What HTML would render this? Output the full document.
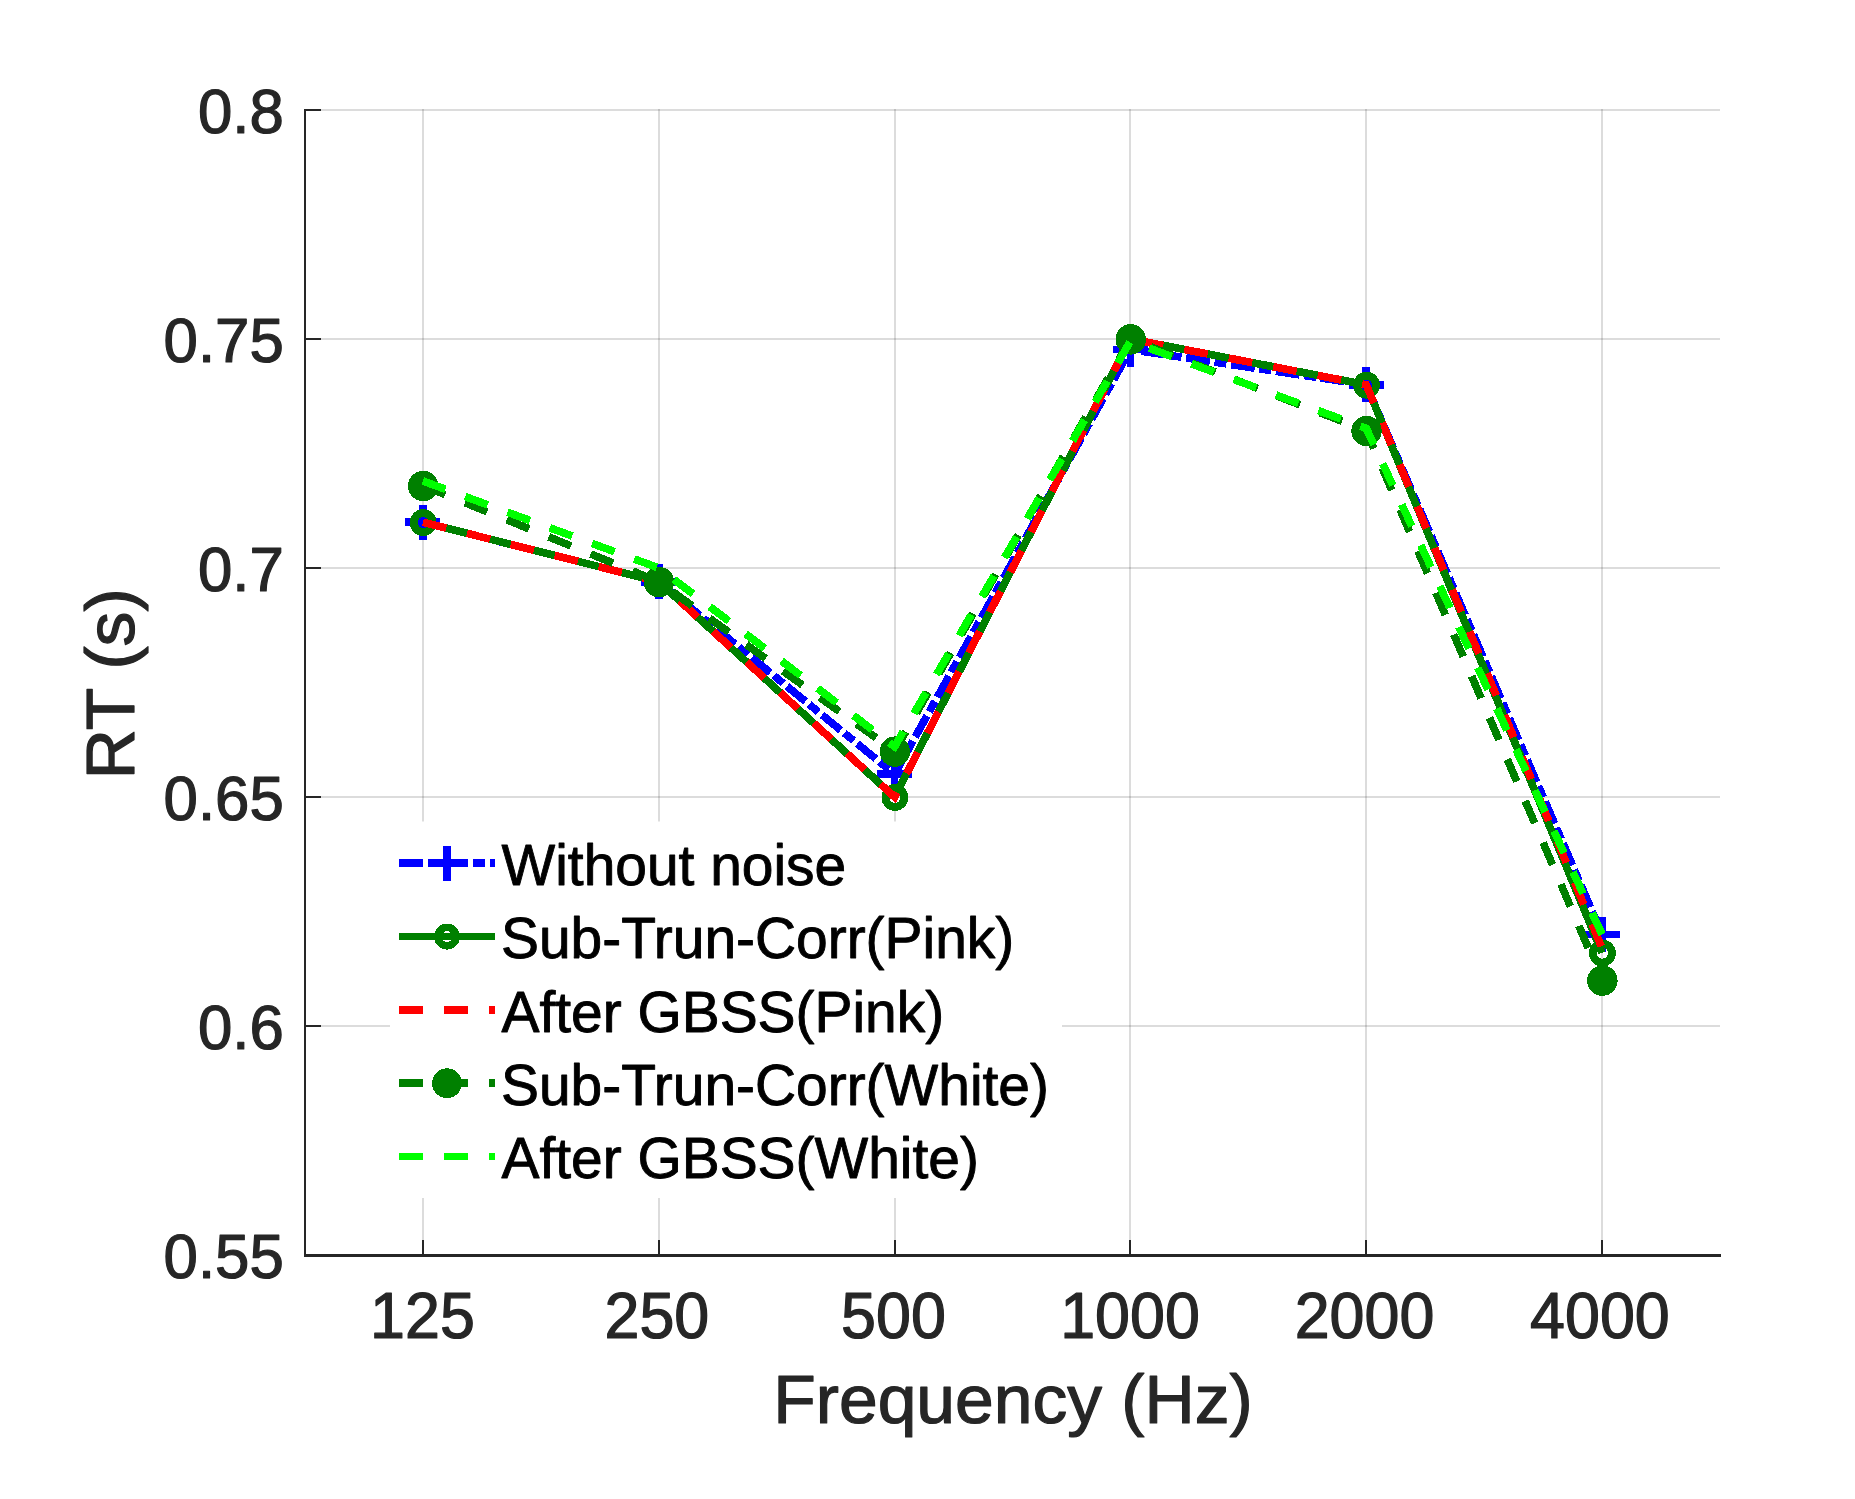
<!DOCTYPE html>
<html lang="en"><head><meta charset="utf-8"><title>RT vs Frequency</title>
<style>
html,body{margin:0;padding:0;background:#fff;}
body{width:1855px;height:1499px;overflow:hidden;}
svg{display:block;}
text{font-family:"Liberation Sans",Arial,Helvetica,sans-serif;}
.tick{font-size:62.5px;fill:#262626;stroke:#262626;stroke-width:1.2px;stroke-linejoin:round;}
.lab{font-size:69.6px;fill:#262626;stroke:#262626;stroke-width:1.2px;stroke-linejoin:round;}
.leg{font-size:56.9px;fill:#000;stroke:#000;stroke-width:0.9px;stroke-linejoin:round;}
.crisp{shape-rendering:crispEdges;}
</style></head><body>
<svg width="1855" height="1499" viewBox="0 0 1855 1499">
<rect width="1855" height="1499" fill="#fff"/>
<g class="crisp" stroke="#262626" stroke-opacity="0.16" stroke-width="2" fill="none">
<line x1="423.0" y1="109.0" x2="423.0" y2="1255.0"/>
<line x1="659.0" y1="109.0" x2="659.0" y2="1255.0"/>
<line x1="895.0" y1="109.0" x2="895.0" y2="1255.0"/>
<line x1="1130.0" y1="109.0" x2="1130.0" y2="1255.0"/>
<line x1="1366.0" y1="109.0" x2="1366.0" y2="1255.0"/>
<line x1="1602.0" y1="109.0" x2="1602.0" y2="1255.0"/>
<line x1="305.0" y1="110.0" x2="1720.0" y2="110.0"/>
<line x1="305.0" y1="339.0" x2="1720.0" y2="339.0"/>
<line x1="305.0" y1="568.0" x2="1720.0" y2="568.0"/>
<line x1="305.0" y1="797.0" x2="1720.0" y2="797.0"/>
<line x1="305.0" y1="1026.0" x2="1720.0" y2="1026.0"/>
</g>
<rect x="390" y="821.5" width="672" height="376.5" fill="#fff"/>
<g class="crisp" fill="none" stroke-width="7.7" stroke-linejoin="miter">
<polyline points="422.92,522.20 658.75,581.74 894.58,774.10 1130.42,349.53 1366.25,384.80 1602.08,934.40" stroke="#0000ff" stroke-dasharray="24 4.7 12 4.7"/>
<path d="M405.4 522.2H440.4M422.9 504.7V539.7" stroke="#0000ff"/>
<path d="M641.2 581.7H676.2M658.8 564.2V599.2" stroke="#0000ff"/>
<path d="M877.1 774.1H912.1M894.6 756.6V791.6" stroke="#0000ff"/>
<path d="M1112.9 349.5H1147.9M1130.4 332.0V367.0" stroke="#0000ff"/>
<path d="M1348.8 384.8H1383.8M1366.2 367.3V402.3" stroke="#0000ff"/>
<path d="M1584.6 934.4H1619.6M1602.1 916.9V951.9" stroke="#0000ff"/>
<polyline points="422.92,522.20 658.75,581.74 894.58,797.00 1130.42,339.00 1366.25,384.80 1602.08,952.72" stroke="#008000"/>
<circle cx="423.2" cy="522.6" r="9.5" stroke-width="7.8" stroke="#008000"/>
<circle cx="659.0" cy="582.1" r="9.5" stroke-width="7.8" stroke="#008000"/>
<circle cx="894.9" cy="797.4" r="9.5" stroke-width="7.8" stroke="#008000"/>
<circle cx="1130.7" cy="339.4" r="9.5" stroke-width="7.8" stroke="#008000"/>
<circle cx="1366.5" cy="385.2" r="9.5" stroke-width="7.8" stroke="#008000"/>
<circle cx="1602.4" cy="953.1" r="9.5" stroke-width="7.8" stroke="#008000"/>
<polyline points="422.92,522.20 658.75,581.74 894.58,797.00 1130.42,339.00 1366.25,384.80 1602.08,948.14" stroke="#ff0000" stroke-dasharray="24 21.3"/>
<polyline points="422.92,485.56 658.75,581.74 894.58,751.20 1130.42,339.00 1366.25,430.60 1602.08,980.20" stroke="#008000" stroke-dasharray="24 21.3"/>
<circle cx="423.2" cy="486.0" r="15.2" fill="#008000" stroke="none"/>
<circle cx="659.0" cy="582.1" r="15.2" fill="#008000" stroke="none"/>
<circle cx="894.9" cy="751.6" r="15.2" fill="#008000" stroke="none"/>
<circle cx="1130.7" cy="339.4" r="15.2" fill="#008000" stroke="none"/>
<circle cx="1366.5" cy="431.0" r="15.2" fill="#008000" stroke="none"/>
<circle cx="1602.4" cy="980.6" r="15.2" fill="#008000" stroke="none"/>
<polyline points="422.92,480.98 658.75,568.00 894.58,746.62 1130.42,341.29 1366.25,428.31 1602.08,934.40" stroke="#00ff00" stroke-dasharray="24 21.05"/>
</g>
<g class="crisp" fill="#262626" stroke="none">
<rect x="304" y="109" width="2" height="1148"/>
<rect x="304" y="1254" width="1417" height="3"/>
<rect x="422" y="1240" width="2" height="15"/>
<rect x="658" y="1240" width="2" height="15"/>
<rect x="894" y="1240" width="2" height="15"/>
<rect x="1129" y="1240" width="2" height="15"/>
<rect x="1365" y="1240" width="2" height="15"/>
<rect x="1601" y="1240" width="2" height="15"/>
<rect x="305" y="109" width="16" height="2"/>
<rect x="305" y="338" width="16" height="2"/>
<rect x="305" y="567" width="16" height="2"/>
<rect x="305" y="796" width="16" height="2"/>
<rect x="305" y="1025" width="16" height="2"/>
</g>
<text class="tick" transform="translate(283.8 133.0) scale(0.988 1.012)" text-anchor="end">0.8</text>
<text class="tick" transform="translate(283.8 362.0) scale(0.988 1.012)" text-anchor="end">0.75</text>
<text class="tick" transform="translate(283.8 591.0) scale(0.988 1.012)" text-anchor="end">0.7</text>
<text class="tick" transform="translate(283.8 820.0) scale(0.988 1.012)" text-anchor="end">0.65</text>
<text class="tick" transform="translate(283.8 1049.0) scale(0.988 1.012)" text-anchor="end">0.6</text>
<text class="tick" transform="translate(283.8 1278.0) scale(0.988 1.012)" text-anchor="end">0.55</text>
<text class="tick" transform="translate(422.5 1338.2) scale(1.005 1.03)" text-anchor="middle">125</text>
<text class="tick" transform="translate(656.9 1338.2) scale(1.005 1.03)" text-anchor="middle">250</text>
<text class="tick" transform="translate(893.5 1338.2) scale(1.005 1.03)" text-anchor="middle">500</text>
<text class="tick" transform="translate(1130.0 1338.2) scale(1.005 1.03)" text-anchor="middle">1000</text>
<text class="tick" transform="translate(1364.5 1338.2) scale(1.005 1.03)" text-anchor="middle">2000</text>
<text class="tick" transform="translate(1599.9 1338.2) scale(1.005 1.03)" text-anchor="middle">4000</text>
<text class="lab" transform="translate(1013 1423.4) scale(1 0.995)" text-anchor="middle">Frequency (Hz)</text>
<text class="lab" transform="translate(134.0 683.8) rotate(-90) scale(1 0.995)" text-anchor="middle">RT (s)</text>
<g class="crisp" fill="none" stroke-width="7.7">
<line x1="398.8" y1="863.3" x2="495.1" y2="863.3" stroke="#0000ff" stroke-dasharray="24 4.7 12 4.7"/>
<path d="M429.5 863.3H464.5M447.0 845.8V880.8" stroke="#0000ff"/>
<circle cx="447.0" cy="936.6" r="9.2" stroke-width="7.6" stroke="#008000"/>
<line x1="398.8" y1="936.6" x2="495.1" y2="936.6" stroke="#008000"/>
<line x1="398.8" y1="1009.9" x2="495.1" y2="1009.9" stroke="#ff0000" stroke-dasharray="24 21.3"/>
<line x1="398.8" y1="1083.2" x2="495.1" y2="1083.2" stroke="#008000" stroke-dasharray="24 21.3"/>
<circle cx="447.0" cy="1083.2" r="14.9" fill="#008000" stroke="none"/>
<line x1="398.8" y1="1156.5" x2="495.1" y2="1156.5" stroke="#00ff00" stroke-dasharray="24 21.3"/>
</g>
<text class="leg" transform="translate(501.5 884.9) scale(1 0.995)">Without noise</text>
<text class="leg" transform="translate(501.0 958.2) scale(1 0.995)">Sub-Trun-Corr(Pink)</text>
<text class="leg" transform="translate(501.5 1031.5) scale(1 0.995)">After GBSS(Pink)</text>
<text class="leg" transform="translate(501.0 1104.8) scale(1 0.995)">Sub-Trun-Corr(White)</text>
<text class="leg" transform="translate(501.5 1178.1) scale(1 0.995)">After GBSS(White)</text>
</svg>
</body></html>
